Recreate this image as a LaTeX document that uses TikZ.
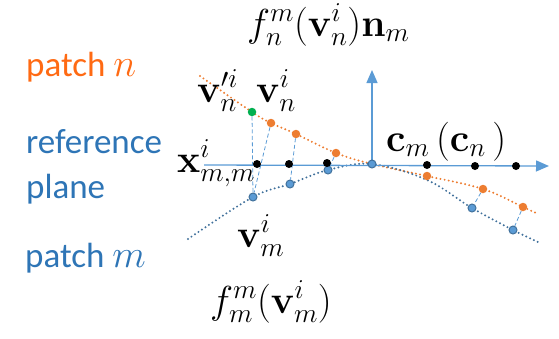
\RequirePackage{fix-cm}
\documentclass[tikz,border=0pt]{standalone}
\usepackage{amsmath}
\usepackage[no-math]{fontspec}
\setmainfont{Carlito}
\usetikzlibrary{arrows.meta}
\definecolor{axblue}{HTML}{5B9BD5}
\definecolor{dkblue}{HTML}{41719C}
\definecolor{txtblue}{HTML}{2E75B6}
\definecolor{orng}{HTML}{ED7D31}
\definecolor{txtorng}{HTML}{FF6A13}
\definecolor{grn}{HTML}{00B050}
\newcommand{\mysizemath}{\fontsize{39}{44}\selectfont}
\tikzset{
  lbl/.style={inner sep=0pt, anchor=base west, font=\fontsize{35}{40}\selectfont},
  mlbl/.style={inner sep=0pt, anchor=base west, font=\mysizemath},
  axis/.style={draw=axblue, line width=1.3pt, -{Triangle[length=13pt,width=11pt]}},
  dotcurve/.style={line width=2.2pt, line cap=round, dash pattern=on 0pt off 4.2pt},
  proj/.style={draw=axblue, line width=0.8pt, dash pattern=on 4pt off 2.5pt},
  opt/.style={circle, fill=orng, inner sep=0pt, minimum size=8.5pt},
  bpt/.style={circle, fill=axblue, draw=dkblue, line width=1pt, inner sep=0pt, minimum size=8pt},
  kpt/.style={circle, fill=black, inner sep=0pt, minimum size=8pt},
  gpt/.style={circle, fill=grn, inner sep=0pt, minimum size=8.5pt}
}
\begin{document}
\begin{tikzpicture}[x=1pt, y=-1pt]
\useasboundingbox (0,0) rectangle (559,338);
% curves
\draw[dotcurve, draw=orng] plot[smooth, tension=0.6] coordinates {(200,76) (252,112) (271,123) (296,134) (336,153) (372,164) (427,176) (483,189) (523,207) (538,214)};
\draw[dotcurve, draw=dkblue] plot[smooth, tension=0.6] coordinates {(188,239) (253,197) (290,184) (328,170) (372,164) (427,180) (472,208) (513,230) (540,243)};
% axes
\coordinate (hs) at (204,165);
\coordinate (he) at (549,166);
\coordinate (o) at (372,164);
\coordinate (vt) at (372,70);
\draw[axis] (hs) -- (he);
\draw[axis] (o) -- (vt);
% points
\node[gpt] (g1) at (252,112) {};
\node[opt] (o1) at (271,123) {};
\node[opt] (o2) at (296,134) {};
\node[opt] (o3) at (336,153) {};
\node[opt] (o4) at (427,176) {};
\node[opt] (o5) at (483,189) {};
\node[opt] (o6) at (523,207) {};
\node[bpt] (b1) at (253,197) {};
\node[bpt] (b2) at (290,184) {};
\node[bpt] (b3) at (328,170) {};
\node[bpt] (b5) at (472,208) {};
\node[bpt] (b6) at (513,230) {};
% projections
\draw[proj] (g1) -- (b1);
\draw[proj] (o1) -- (b1);
\draw[proj] (o2) -- (b2);
\draw[proj] (o3) -- (b3);
\draw[proj] (o5) -- (b5);
\draw[proj] (o6) -- (b6);
\node[bpt] (b0) at (o) {};
% black dots
\node[kpt] (k1) at (257,164) {};
\node[kpt] (k2) at (289,164) {};
\node[kpt] (k3) at (327,163) {};
\node[kpt] (k4) at (427,165) {};
\node[kpt] (k5) at (475,166) {};
\node[kpt] (k6) at (516,166) {};
% labels
\node[lbl, text=txtorng] (pn) at (26,76) {patch {\mysizemath$n$}};
\node[lbl, text=txtblue] (ref) at (26,153) {reference};
\node[lbl, text=txtblue] (pl) at (26,198) {plane};
\node[lbl, text=txtblue] (pm) at (25,267) {patch {\mysizemath$m$}};
\node[mlbl] (top) at (247,36) {$f_n^m(\mathbf{v}_n^i)\mathbf{n}_m$};
\node[mlbl] (vpn) at (197,102) {$\mathbf{v}'^{i}_{n}$};
\node[mlbl] (vn) at (256,102) {$\mathbf{v}_n^i$};
\node[mlbl] (xmm) at (177,172) {$\mathbf{x}^i_{m,m}$};
\node[mlbl] (cm) at (386,151) {$\mathbf{c}_m\,(\mathbf{c}_n\,)$};
\node[mlbl] (vm) at (237,247) {$\mathbf{v}_m^i$};
\node[mlbl] (fm) at (210,313) {$f_m^m(\mathbf{v}_m^i)$};
\end{tikzpicture}
\end{document}
